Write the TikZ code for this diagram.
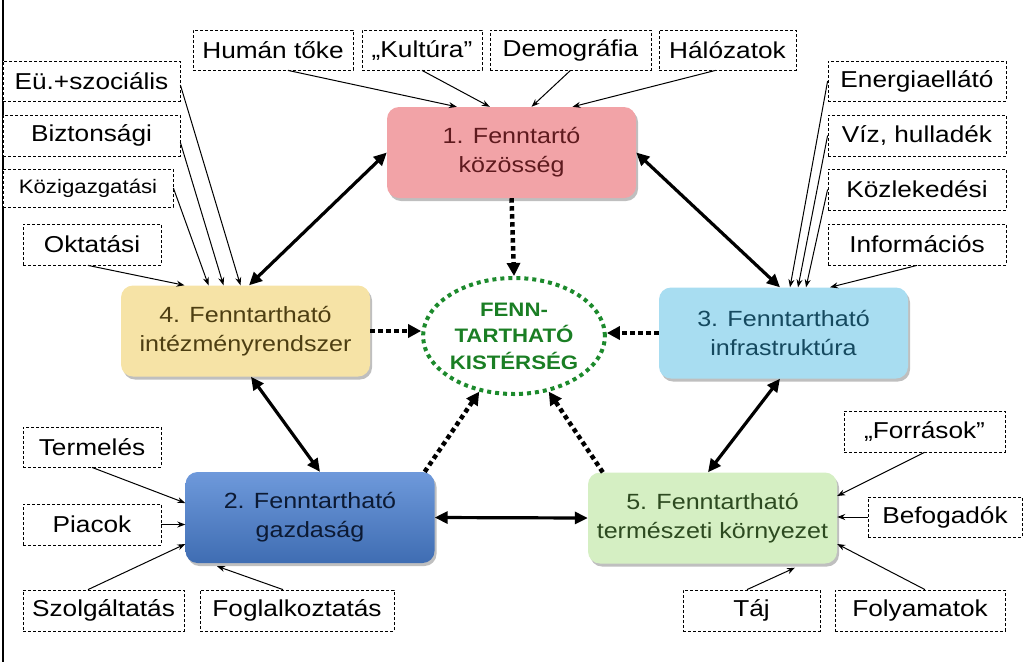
\documentclass[tikz,border=0pt]{standalone}
\usepackage{fontspec}
\setmainfont{Liberation Sans}[FakeStretch=1.14]
\usetikzlibrary{arrows.meta,shadows,shapes.geometric,calc}
\definecolor{pinkf}{HTML}{F2A3A7}
\definecolor{pinkt}{HTML}{5E1A1E}
\definecolor{yelf}{HTML}{F6E3A6}
\definecolor{yelt}{HTML}{4D3E12}
\definecolor{cyanf}{HTML}{A8DDF1}
\definecolor{cyant}{HTML}{15495F}
\definecolor{bluef}{HTML}{4A80D2}
\definecolor{bluet}{HTML}{0C1A33}
\definecolor{greenf}{HTML}{D5EFC3}
\definecolor{greent}{HTML}{2D4A20}
\definecolor{elg}{HTML}{1C8A2C}
\definecolor{elt}{HTML}{1A7E24}
\begin{document}
\begin{tikzpicture}[x=1pt,y=-1pt,
  dbox/.style={draw, dash pattern=on 3pt off 2pt, line width=0.8pt, fill=white, inner sep=0pt,
    minimum height=40pt, font=\fontsize{23}{26}\selectfont},
  mainbox/.style={rounded corners=12pt, minimum width=249pt, minimum height=91pt, inner sep=0pt,
    align=center, font=\fontsize{22}{29}\selectfont,
    drop shadow={shadow xshift=2pt, shadow yshift=-3pt, opacity=0.25, fill=black}},
  thin/.style={-{Stealth[length=8pt,width=6pt]}, line width=1pt},
  thick/.style={{Triangle[length=13pt,width=12pt]}-{Triangle[length=13pt,width=12pt]}, line width=3.2pt},
  dots/.style={-{Triangle[length=13pt,width=13pt]}, line width=4.5pt, dash pattern=on 4.5pt off 3.5pt},
]
\useasboundingbox (0,0) rectangle (1024,662);
\draw[line width=2pt] (3,0) -- (3,662);

% main boxes
\node[mainbox, fill=pinkf, text=pinkt] (b1) at (511.5,152.5) {1. Fenntartó\\közösség};
\node[mainbox, fill=yelf, text=yelt] (b4) at (245.5,331) {4. Fenntartható\\intézményrendszer};
\node[mainbox, fill=cyanf, text=cyant] (b3) at (783.5,333) {3. Fenntartható\\infrastruktúra};
\node[mainbox, top color=bluef!80!white, bottom color=bluef!85!black, text=bluet] (b2) at (310,517.5) {2. Fenntartható\\gazdaság};
\node[mainbox, fill=greenf, text=greent] (b5) at (712.5,518) {5. Fenntartható\\természeti környezet};
\node[ellipse, draw=elg, line width=4pt, dash pattern=on 4pt off 4pt, minimum width=180pt, minimum height=116pt,
  inner sep=0pt, align=center, text=elt, font=\bfseries\fontsize{19.5}{26.5}\selectfont] (ell) at (514,336)
  {FENN-\\TARTHATÓ\\KISTÉRSÉG};

% dashed boxes
\node[dbox, minimum width=160pt] (hum) at (273,50) {Humán tőke};
\node[dbox, minimum width=120pt] (kul) at (422,50) {„Kultúra”};
\node[dbox, minimum width=161pt] (dem) at (570.5,50) {Demográfia};
\node[dbox, minimum width=137pt] (hal) at (727.5,50) {Hálózatok};
\node[dbox, minimum width=177pt] (eu) at (91.5,81) {Eü.+szociális};
\node[dbox, minimum width=177pt, minimum height=41pt] (biz) at (91.5,135.5) {Biztonsági};
\node[dbox, minimum width=170pt, minimum height=38pt, font=\fontsize{19.5}{22}\selectfont] (koz) at (88,188) {Közigazgatási};
\node[dbox, minimum width=138pt, minimum height=41pt] (okt) at (92,244.5) {Oktatási};
\node[dbox, minimum width=178pt] (ene) at (917,81) {Energiaellátó};
\node[dbox, minimum width=178pt, minimum height=41pt] (viz) at (917,135.5) {Víz, hulladék};
\node[dbox, minimum width=178pt, minimum height=41pt] (kozl) at (917,189.5) {Közlekedési};
\node[dbox, minimum width=178pt, minimum height=41pt] (inf) at (917,244.5) {Információs};
\node[dbox, minimum width=138pt] (ter) at (92,447) {Termelés};
\node[dbox, minimum width=138pt, minimum height=41pt] (pia) at (92,524.5) {Piacok};
\node[dbox, minimum width=161pt, minimum height=41pt] (szo) at (103.5,610.5) {Szolgáltatás};
\node[dbox, minimum width=194pt, minimum height=41pt] (fog) at (297,610.5) {Foglalkoztatás};
\node[dbox, minimum width=161pt, minimum height=41pt] (for) at (924.5,431.5) {„Források”};
\node[dbox, minimum width=154pt] (bef) at (945,517) {Befogadók};
\node[dbox, minimum width=137pt, minimum height=41pt] (taj) at (751.5,610.5) {Táj};
\node[dbox, minimum width=170pt, minimum height=41pt] (fol) at (920,610.5) {Folyamatok};

% thin input arrows
\draw[thin] ([xshift=15pt]hum.south) -- ([xshift=70pt]b1.north west);
\draw[thin] (kul.south) -- ([xshift=103pt]b1.north west);
\draw[thin] (dem.south) -- ([xshift=20pt]b1.north);
\draw[thin] ([xshift=-12pt]hal.south) -- ([xshift=61pt]b1.north);
\draw[thin] ([yshift=-4pt]eu.east) -- ([xshift=-5pt]b4.north);
\draw[thin] ([yshift=-7pt]biz.east) -- ([xshift=-22pt]b4.north);
\draw[thin] (koz.east) -- ([xshift=-37pt]b4.north);
\draw[thin] ([xshift=-4pt]okt.south) -- ([xshift=-61pt]b4.north);
\draw[thin] (ene.west) -- ([xshift=6.5pt]b3.north);
\draw[thin] (viz.west) -- ([xshift=14.5pt]b3.north);
\draw[thin] (kozl.west) -- ([xshift=22.5pt]b3.north);
\draw[thin] (inf.south) -- ([xshift=46.5pt]b3.north);
\draw[thin] (ter.south) -- ([yshift=14.5pt]b2.west);
\draw[thin] (pia.east) -- (pia.east -| b2.west);
\draw[thin] ([xshift=-15.5pt]szo.north) -- ([yshift=-26.5pt]b2.west);
\draw[thin] ([xshift=-14pt]fog.north) -- ([xshift=-93pt,yshift=-3pt]b2.south);
\draw[thin] (for.south) -- ([yshift=22pt]b5.east);
\draw[thin] (bef.west) -- (bef.west -| b5.east);
\draw[thin] ([xshift=5pt]fol.north) -- ([yshift=-26pt]b5.east);
\draw[thin] ([xshift=-4.5pt]taj.north) -- ([xshift=82.5pt,yshift=-4pt]b5.south);

% thick double arrows
\draw[thick] ([xshift=3.5pt]b4.north) -- (b1.west);
\draw[thick] (b1.east) -- ([xshift=-3.5pt]b3.north);
\draw[thick] ([xshift=5.5pt]b4.south) -- ([xshift=10pt]b2.north);
\draw[thick] ([xshift=-3.5pt]b3.south) -- ([xshift=-4.5pt]b5.north);
\draw[thick] (b2.east) -- (b5.west);

% dotted arrows to the centre
\draw[dots] (b1.south) -- (ell.north);
\draw[dots] (b4.east) -- (b4.east -| ell.west);
\draw[dots] (b3.west) -- (b3.west -| ell.east);
\draw[dots] ([xshift=-10pt]b2.north east) -- (ell.238);
\draw[dots] ([xshift=15pt]b5.north west) -- (ell.302);
\end{tikzpicture}
\end{document}
